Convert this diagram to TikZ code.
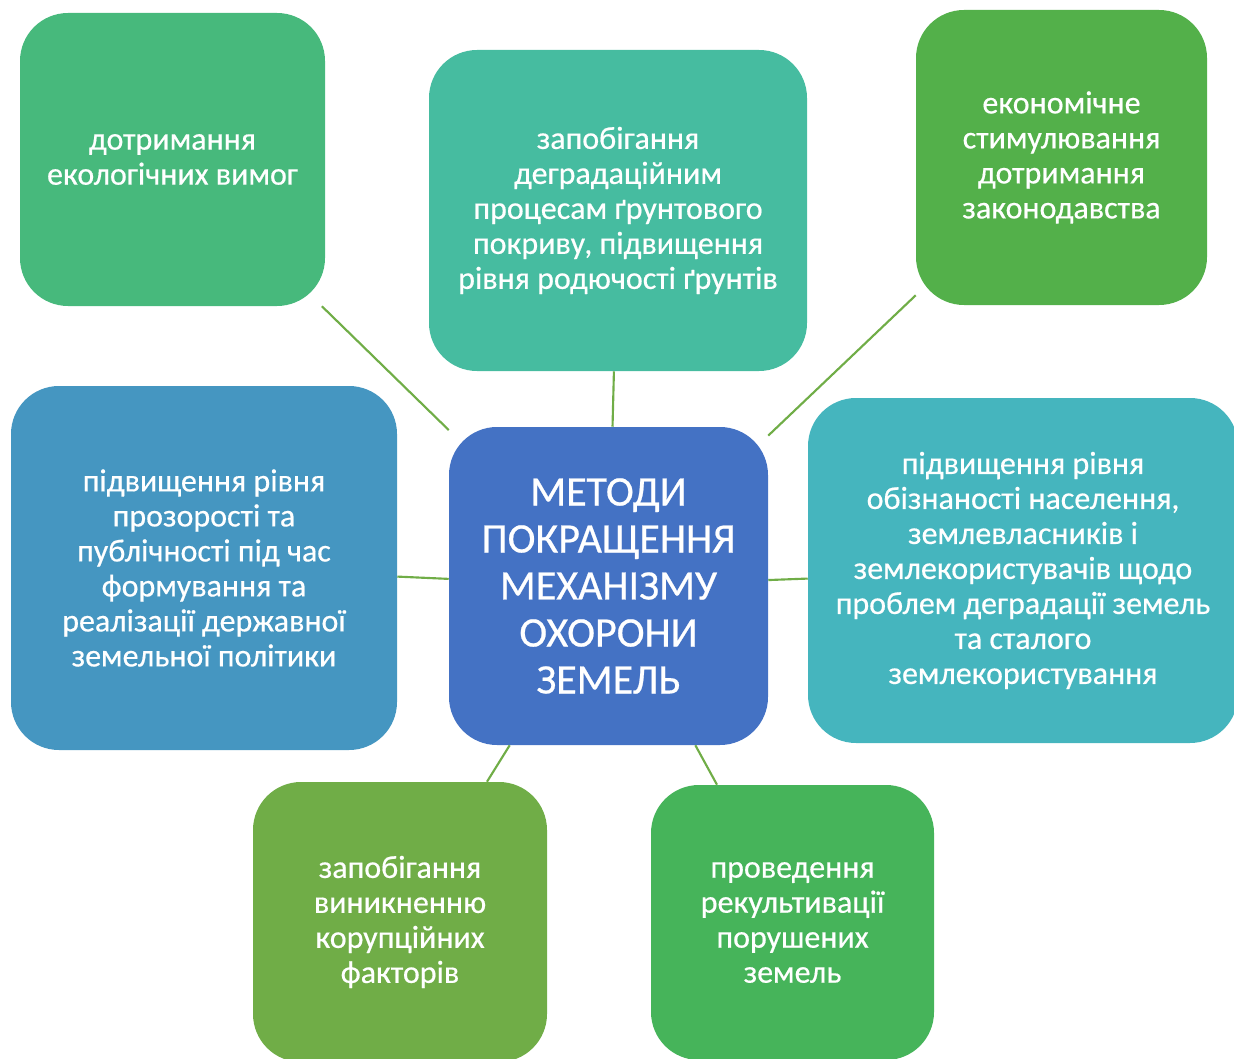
\documentclass[tikz,border=0pt]{standalone}
\usepackage{fontspec}
\setmainfont{Carlito}
\newfontfamily\boxfont{Carlito}[FakeBold=0.5]
\definecolor{cTL}{RGB}{71,185,124}
\definecolor{cTop}{RGB}{70,188,160}
\definecolor{cTR}{RGB}{83,176,74}
\definecolor{cLeft}{RGB}{69,150,193}
\definecolor{cCenter}{RGB}{68,114,196}
\definecolor{cRight}{RGB}{69,181,190}
\definecolor{cBL}{RGB}{112,173,71}
\definecolor{cBR}{RGB}{70,180,90}
\definecolor{linkgreen}{RGB}{112,173,71}
\begin{document}
\begin{tikzpicture}[x=0.75pt,y=-0.75pt,
  box/.style={rounded corners=36pt, inner sep=0pt, align=center, text=white,
    font=\boxfont\fontsize{24}{26.25}\selectfont},
  hub/.style={box, font=\boxfont\fontsize{31.5}{35.25}\selectfont},
  link/.style={draw=linkgreen, line width=1.6pt}]
\clip (0,0) rectangle (1234,1059);
\node[box, fill=cTL, minimum width=228.75pt, minimum height=219.75pt] (tl) at (172.5,159.5)
  {дотримання\\екологічних вимог};
\node[box, fill=cTop, minimum width=283.5pt, minimum height=240.75pt] (top) at (618,210.5)
  {запобігання\\деградаційним\\процесам ґрунтового\\покриву, підвищення\\рівня родючості ґрунтів};
\node[box, fill=cTR, minimum width=218.25pt, minimum height=221.25pt] (tr) at (1061.5,157.5)
  {економічне\\стимулювання\\дотримання\\законодавства};
\node[box, fill=cLeft, minimum width=289.5pt, minimum height=273pt] (left) at (204,568)
  {підвищення рівня\\прозорості та\\публічності під час\\формування та\\реалізації державної\\земельної політики};
\node[hub, fill=cCenter, minimum width=239.25pt, minimum height=238.5pt] (hub) at (608.5,586)
  {МЕТОДИ\\ПОКРАЩЕННЯ\\МЕХАНІЗМУ\\ОХОРОНИ\\ЗЕМЕЛЬ};
\node[box, fill=cRight, minimum width=322.5pt, minimum height=258.75pt] (right) at (1023,570.5)
  {підвищення рівня\\обізнаності населення,\\землевласників і\\землекористувачів щодо\\проблем деградації земель\\та сталого\\землекористування};
\node[box, fill=cBL, minimum width=220.5pt, minimum height=210pt] (bl) at (400,922)
  {запобігання\\виникненню\\корупційних\\факторів};
\node[box, fill=cBR, minimum width=212.25pt, minimum height=206.25pt] (br) at (792.5,922.5)
  {проведення\\рекультивації\\порушених\\земель};
\foreach \n in {tl,top,tr,left,right,bl,br}
  \draw[link] (\n) -- (hub);
\end{tikzpicture}
\end{document}
